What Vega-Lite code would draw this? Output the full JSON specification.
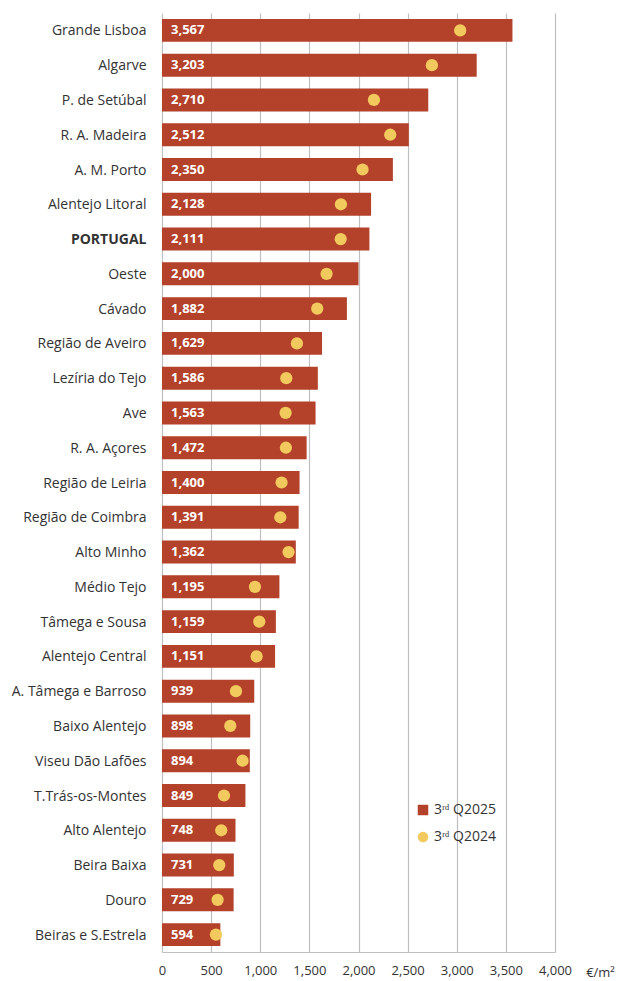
{
  "$schema": "https://vega.github.io/schema/vega-lite/v6.json",
  "autosize": {"type": "none"},
  "width": 393,
  "height": 939,
  "padding": {"left": 162, "top": 13, "right": 63, "bottom": 29},
  "background": "white",
  "config": {
    "font": "Open Sans",
    "view": {"stroke": null}
  },
  "data": {
    "values": [
      {"region": "Grande Lisboa", "v2025": 3567, "v2024": 3035},
      {"region": "Algarve", "v2025": 3203, "v2024": 2747},
      {"region": "P. de Setúbal", "v2025": 2710, "v2024": 2157},
      {"region": "R. A. Madeira", "v2025": 2512, "v2024": 2323},
      {"region": "A. M. Porto", "v2025": 2350, "v2024": 2041},
      {"region": "Alentejo Litoral", "v2025": 2128, "v2024": 1821},
      {"region": "PORTUGAL", "v2025": 2111, "v2024": 1819},
      {"region": "Oeste", "v2025": 2000, "v2024": 1675},
      {"region": "Cávado", "v2025": 1882, "v2024": 1580},
      {"region": "Região de Aveiro", "v2025": 1629, "v2024": 1373},
      {"region": "Lezíria do Tejo", "v2025": 1586, "v2024": 1265},
      {"region": "Ave", "v2025": 1563, "v2024": 1258},
      {"region": "R. A. Açores", "v2025": 1472, "v2024": 1261},
      {"region": "Região de Leiria", "v2025": 1400, "v2024": 1217},
      {"region": "Região de Coimbra", "v2025": 1391, "v2024": 1204},
      {"region": "Alto Minho", "v2025": 1362, "v2024": 1288},
      {"region": "Médio Tejo", "v2025": 1195, "v2024": 946},
      {"region": "Tâmega e Sousa", "v2025": 1159, "v2024": 990},
      {"region": "Alentejo Central", "v2025": 1151, "v2024": 963},
      {"region": "A. Tâmega e Barroso", "v2025": 939, "v2024": 753},
      {"region": "Baixo Alentejo", "v2025": 898, "v2024": 695},
      {"region": "Viseu Dão Lafões", "v2025": 894, "v2024": 820},
      {"region": "T.Trás-os-Montes", "v2025": 849, "v2024": 631},
      {"region": "Alto Alentejo", "v2025": 748, "v2024": 603},
      {"region": "Beira Baixa", "v2025": 731, "v2024": 583},
      {"region": "Douro", "v2025": 729, "v2024": 566},
      {"region": "Beiras e S.Estrela", "v2025": 594, "v2024": 549}
    ]
  },
  "encoding": {
    "y": {
      "field": "region",
      "type": "nominal",
      "sort": null,
      "scale": {"paddingInner": 0.34, "paddingOuter": 0.17},
      "axis": {
        "title": null,
        "domain": false,
        "ticks": false,
        "labelPadding": 16,
        "labelOffset": 1,
        "labelFontSize": 14,
        "labelColor": "#333333",
        "labelFontWeight": {"condition": {"test": "datum.value === 'PORTUGAL'", "value": "bold"}, "value": "normal"}
      }
    }
  },
  "layer": [
    {
      "mark": {"type": "bar", "color": "#B4412A"},
      "encoding": {
        "x": {
          "field": "v2025",
          "type": "quantitative",
          "scale": {"domain": [0, 4000], "nice": false},
          "axis": {
            "values": [0, 500, 1000, 1500, 2000, 2500, 3000, 3500, 4000],
            "format": ",d",
            "labelOverlap": false,
            "labelFlush": false,
            "grid": true,
            "gridColor": "#bfbfbf",
            "gridWidth": 1.2,
            "domainColor": "#bfbfbf",
            "domainWidth": 1.2,
            "ticks": false,
            "labelPadding": 12,
            "labelFontSize": 13,
            "labelColor": "#333333",
            "title": "€/m²",
            "titleX": 438,
            "titleY": 20,
            "titleAlign": "center",
            "titleBaseline": "middle",
            "titleFontSize": 13,
            "titleFontWeight": "normal",
            "titleColor": "#333333"
          }
        },
        "color": {
          "datum": "3ʳᵈ Q2025",
          "type": "nominal",
          "scale": {"domain": ["3ʳᵈ Q2025", "3ʳᵈ Q2024"], "range": ["#B4412A", "#F2C95C"]},
          "legend": {
            "title": null,
            "orient": "none",
            "legendX": 254,
            "legendY": 790,
            "labelFontSize": 14,
            "labelColor": "#333333",
            "symbolSize": 110,
            "rowPadding": 13,
            "labelOffset": 4
          }
        }
      }
    },
    {
      "mark": {"type": "text", "align": "left", "dx": 9, "color": "white", "fontWeight": "bold", "fontSize": 13, "baseline": "middle"},
      "encoding": {
        "x": {"datum": 0, "type": "quantitative"},
        "text": {"field": "v2025", "type": "quantitative", "format": ","}
      }
    },
    {
      "mark": {"type": "point", "filled": true, "opacity": 1, "size": 150},
      "encoding": {
        "x": {"field": "v2024", "type": "quantitative"},
        "color": {"datum": "3ʳᵈ Q2024", "type": "nominal"},
        "shape": {
          "datum": "3ʳᵈ Q2024",
          "type": "nominal",
          "scale": {"domain": ["3ʳᵈ Q2025", "3ʳᵈ Q2024"], "range": ["square", "circle"]}
        }
      }
    }
  ]
}
